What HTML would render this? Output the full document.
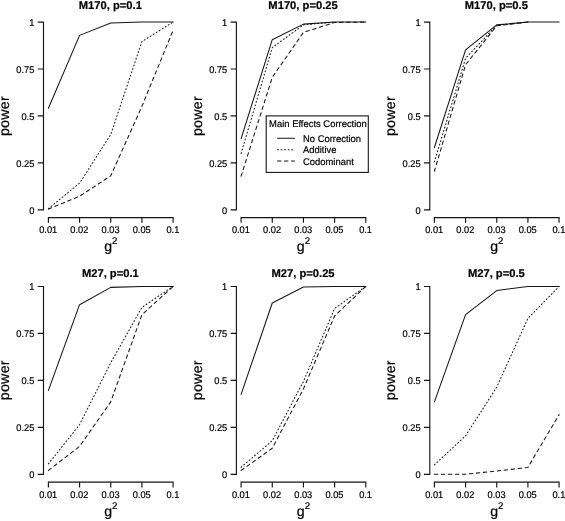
<!DOCTYPE html>
<html><head><meta charset="utf-8"><title>Power curves</title>
<style>html,body{margin:0;padding:0;background:#fff}svg{display:block;will-change:transform}text{font-family:"Liberation Sans",Arial,Helvetica,sans-serif;fill:#000;stroke:#000;stroke-width:.2px;text-rendering:geometricPrecision}.t{font-size:9.7px}.l{font-size:14.2px}.s{font-size:9.6px}.h{font-size:11.2px;font-weight:bold;stroke-width:.2px}.a{fill:none;stroke:#151515;stroke-width:1.15}.c{fill:none;stroke:#151515;stroke-width:1.05;stroke-linecap:round;stroke-linejoin:round}</style></head><body>
<svg width="565" height="521" viewBox="0 0 565 521">
<rect width="565" height="521" fill="#fff"/>
<g>
<path class="a" stroke-linecap="square" d="M43.50 22.05V209.80M43.50 209.80h-5.20M43.50 162.86h-5.20M43.50 115.93h-5.20M43.50 68.99h-5.20M43.50 22.05h-5.20M48.40 217.60H173.08M48.40 217.60v4.60M79.57 217.60v4.60M110.74 217.60v4.60M141.91 217.60v4.60M173.08 217.60v4.60"/>
<text class="t" text-anchor="end" transform="translate(34.30 213.80) scale(0.955 1)">0</text>
<text class="t" text-anchor="end" transform="translate(34.30 166.86) scale(0.955 1)">0.25</text>
<text class="t" text-anchor="end" transform="translate(34.30 119.93) scale(0.955 1)">0.5</text>
<text class="t" text-anchor="end" transform="translate(34.30 72.99) scale(0.955 1)">0.75</text>
<text class="t" text-anchor="end" transform="translate(34.30 26.05) scale(0.955 1)">1</text>
<text class="t" text-anchor="middle" transform="translate(48.20 233.00) scale(0.955 1)">0.01</text>
<text class="t" text-anchor="middle" transform="translate(79.37 233.00) scale(0.955 1)">0.02</text>
<text class="t" text-anchor="middle" transform="translate(110.54 233.00) scale(0.955 1)">0.03</text>
<text class="t" text-anchor="middle" transform="translate(141.71 233.00) scale(0.955 1)">0.05</text>
<text class="t" text-anchor="middle" transform="translate(172.88 233.00) scale(0.955 1)">0.1</text>
<text class="h" text-anchor="middle" x="110.34" y="8.95">M170, p=0.1</text>
<text class="l" x="104.14" y="250.70">g<tspan class="s" dy="-6.6">2</tspan></text>
<text class="l" text-anchor="middle" transform="translate(9.30 116.03) rotate(-90)" letter-spacing=".3">power</text>
<polyline class="c" points="48.40,209.05 79.57,196.28 110.74,175.82 141.91,106.35 173.08,30.31" stroke-dasharray="3.5 3.5"/>
<polyline class="c" points="48.40,208.67 79.57,183.14 110.74,134.51 141.91,41.58 173.08,22.05" stroke-dasharray="0.9 2.65"/>
<polyline class="c" points="48.40,108.23 79.57,35.38 110.74,22.99 141.91,22.05 173.08,22.05"/>
</g>
<g>
<path class="a" stroke-linecap="square" d="M236.40 22.05V209.80M236.40 209.80h-5.20M236.40 162.86h-5.20M236.40 115.93h-5.20M236.40 68.99h-5.20M236.40 22.05h-5.20M241.10 217.60H365.78M241.10 217.60v4.60M272.27 217.60v4.60M303.44 217.60v4.60M334.61 217.60v4.60M365.78 217.60v4.60"/>
<text class="t" text-anchor="end" transform="translate(227.20 213.80) scale(0.955 1)">0</text>
<text class="t" text-anchor="end" transform="translate(227.20 166.86) scale(0.955 1)">0.25</text>
<text class="t" text-anchor="end" transform="translate(227.20 119.93) scale(0.955 1)">0.5</text>
<text class="t" text-anchor="end" transform="translate(227.20 72.99) scale(0.955 1)">0.75</text>
<text class="t" text-anchor="end" transform="translate(227.20 26.05) scale(0.955 1)">1</text>
<text class="t" text-anchor="middle" transform="translate(240.90 233.00) scale(0.955 1)">0.01</text>
<text class="t" text-anchor="middle" transform="translate(272.07 233.00) scale(0.955 1)">0.02</text>
<text class="t" text-anchor="middle" transform="translate(303.24 233.00) scale(0.955 1)">0.03</text>
<text class="t" text-anchor="middle" transform="translate(334.41 233.00) scale(0.955 1)">0.05</text>
<text class="t" text-anchor="middle" transform="translate(365.58 233.00) scale(0.955 1)">0.1</text>
<text class="h" text-anchor="middle" x="303.04" y="8.95">M170, p=0.25</text>
<text class="l" x="296.84" y="250.70">g<tspan class="s" dy="-6.6">2</tspan></text>
<text class="l" text-anchor="middle" transform="translate(202.20 116.03) rotate(-90)" letter-spacing=".3">power</text>
<polyline class="c" points="241.10,176.19 272.27,77.25 303.44,32.38 334.61,22.43 365.78,22.05" stroke-dasharray="3.5 3.5"/>
<polyline class="c" points="241.10,153.48 272.27,47.58 303.44,24.87 334.61,22.05" stroke-dasharray="0.9 2.65"/>
<polyline class="c" points="241.10,138.64 272.27,39.70 303.44,24.12 334.61,22.05 365.78,22.05"/>
</g>
<g>
<path class="a" stroke-linecap="square" d="M429.80 22.05V209.80M429.80 209.80h-5.20M429.80 162.86h-5.20M429.80 115.93h-5.20M429.80 68.99h-5.20M429.80 22.05h-5.20M434.40 217.60H559.08M434.40 217.60v4.60M465.57 217.60v4.60M496.74 217.60v4.60M527.91 217.60v4.60M559.08 217.60v4.60"/>
<text class="t" text-anchor="end" transform="translate(420.60 213.80) scale(0.955 1)">0</text>
<text class="t" text-anchor="end" transform="translate(420.60 166.86) scale(0.955 1)">0.25</text>
<text class="t" text-anchor="end" transform="translate(420.60 119.93) scale(0.955 1)">0.5</text>
<text class="t" text-anchor="end" transform="translate(420.60 72.99) scale(0.955 1)">0.75</text>
<text class="t" text-anchor="end" transform="translate(420.60 26.05) scale(0.955 1)">1</text>
<text class="t" text-anchor="middle" transform="translate(434.20 233.00) scale(0.955 1)">0.01</text>
<text class="t" text-anchor="middle" transform="translate(465.37 233.00) scale(0.955 1)">0.02</text>
<text class="t" text-anchor="middle" transform="translate(496.54 233.00) scale(0.955 1)">0.03</text>
<text class="t" text-anchor="middle" transform="translate(527.71 233.00) scale(0.955 1)">0.05</text>
<text class="t" text-anchor="middle" transform="translate(558.88 233.00) scale(0.955 1)">0.1</text>
<text class="h" text-anchor="middle" x="496.34" y="8.95">M170, p=0.5</text>
<text class="l" x="490.14" y="250.70">g<tspan class="s" dy="-6.6">2</tspan></text>
<text class="l" text-anchor="middle" transform="translate(394.80 116.03) rotate(-90)" letter-spacing=".3">power</text>
<polyline class="c" points="434.40,171.31 465.57,64.67 496.74,25.81 527.91,22.05" stroke-dasharray="3.5 3.5"/>
<polyline class="c" points="434.40,161.92 465.57,58.29 496.74,25.24 527.91,22.05" stroke-dasharray="0.9 2.65"/>
<polyline class="c" points="434.40,147.47 465.57,49.84 496.74,24.87 527.91,22.05 559.08,22.05"/>
</g>
<g>
<path class="a" stroke-linecap="square" d="M43.50 286.45V474.40M43.50 474.40h-5.20M43.50 427.41h-5.20M43.50 380.42h-5.20M43.50 333.44h-5.20M43.50 286.45h-5.20M48.40 482.10H173.08M48.40 482.10v4.90M79.57 482.10v4.90M110.74 482.10v4.90M141.91 482.10v4.90M173.08 482.10v4.90"/>
<text class="t" text-anchor="end" transform="translate(34.30 478.40) scale(0.955 1)">0</text>
<text class="t" text-anchor="end" transform="translate(34.30 431.41) scale(0.955 1)">0.25</text>
<text class="t" text-anchor="end" transform="translate(34.30 384.42) scale(0.955 1)">0.5</text>
<text class="t" text-anchor="end" transform="translate(34.30 337.44) scale(0.955 1)">0.75</text>
<text class="t" text-anchor="end" transform="translate(34.30 290.45) scale(0.955 1)">1</text>
<text class="t" text-anchor="middle" transform="translate(48.20 498.00) scale(0.955 1)">0.01</text>
<text class="t" text-anchor="middle" transform="translate(79.37 498.00) scale(0.955 1)">0.02</text>
<text class="t" text-anchor="middle" transform="translate(110.54 498.00) scale(0.955 1)">0.03</text>
<text class="t" text-anchor="middle" transform="translate(141.71 498.00) scale(0.955 1)">0.05</text>
<text class="t" text-anchor="middle" transform="translate(172.88 498.00) scale(0.955 1)">0.1</text>
<text class="h" text-anchor="middle" x="110.34" y="276.65">M27, p=0.1</text>
<text class="l" x="104.14" y="515.70">g<tspan class="s" dy="-6.6">2</tspan></text>
<text class="l" text-anchor="middle" transform="translate(9.30 380.22) rotate(-90)" letter-spacing=".3">power</text>
<polyline class="c" points="48.40,470.45 79.57,446.40 110.74,401.85 141.91,314.64 173.08,286.45" stroke-dasharray="3.5 3.5"/>
<polyline class="c" points="48.40,463.87 79.57,424.59 110.74,362.76 141.91,307.31 173.08,286.45" stroke-dasharray="0.9 2.65"/>
<polyline class="c" points="48.40,390.39 79.57,304.68 110.74,287.39 141.91,286.45 173.08,286.45"/>
</g>
<g>
<path class="a" stroke-linecap="square" d="M236.40 286.45V474.40M236.40 474.40h-5.20M236.40 427.41h-5.20M236.40 380.42h-5.20M236.40 333.44h-5.20M236.40 286.45h-5.20M241.10 482.10H365.78M241.10 482.10v4.90M272.27 482.10v4.90M303.44 482.10v4.90M334.61 482.10v4.90M365.78 482.10v4.90"/>
<text class="t" text-anchor="end" transform="translate(227.20 478.40) scale(0.955 1)">0</text>
<text class="t" text-anchor="end" transform="translate(227.20 431.41) scale(0.955 1)">0.25</text>
<text class="t" text-anchor="end" transform="translate(227.20 384.42) scale(0.955 1)">0.5</text>
<text class="t" text-anchor="end" transform="translate(227.20 337.44) scale(0.955 1)">0.75</text>
<text class="t" text-anchor="end" transform="translate(227.20 290.45) scale(0.955 1)">1</text>
<text class="t" text-anchor="middle" transform="translate(240.90 498.00) scale(0.955 1)">0.01</text>
<text class="t" text-anchor="middle" transform="translate(272.07 498.00) scale(0.955 1)">0.02</text>
<text class="t" text-anchor="middle" transform="translate(303.24 498.00) scale(0.955 1)">0.03</text>
<text class="t" text-anchor="middle" transform="translate(334.41 498.00) scale(0.955 1)">0.05</text>
<text class="t" text-anchor="middle" transform="translate(365.58 498.00) scale(0.955 1)">0.1</text>
<text class="h" text-anchor="middle" x="303.04" y="276.65">M27, p=0.25</text>
<text class="l" x="296.84" y="515.70">g<tspan class="s" dy="-6.6">2</tspan></text>
<text class="l" text-anchor="middle" transform="translate(202.20 380.22) rotate(-90)" letter-spacing=".3">power</text>
<polyline class="c" points="241.10,470.45 272.27,448.27 303.44,388.88 334.61,315.96 365.78,286.45" stroke-dasharray="3.5 3.5"/>
<polyline class="c" points="241.10,467.26 272.27,440.76 303.44,381.36 334.61,308.44 365.78,286.45" stroke-dasharray="0.9 2.65"/>
<polyline class="c" points="241.10,394.33 272.27,302.99 303.44,287.01 334.61,286.45 365.78,286.45"/>
</g>
<g>
<path class="a" stroke-linecap="square" d="M429.80 286.45V474.40M429.80 474.40h-5.20M429.80 427.41h-5.20M429.80 380.42h-5.20M429.80 333.44h-5.20M429.80 286.45h-5.20M434.40 482.10H559.08M434.40 482.10v4.90M465.57 482.10v4.90M496.74 482.10v4.90M527.91 482.10v4.90M559.08 482.10v4.90"/>
<text class="t" text-anchor="end" transform="translate(420.60 478.40) scale(0.955 1)">0</text>
<text class="t" text-anchor="end" transform="translate(420.60 431.41) scale(0.955 1)">0.25</text>
<text class="t" text-anchor="end" transform="translate(420.60 384.42) scale(0.955 1)">0.5</text>
<text class="t" text-anchor="end" transform="translate(420.60 337.44) scale(0.955 1)">0.75</text>
<text class="t" text-anchor="end" transform="translate(420.60 290.45) scale(0.955 1)">1</text>
<text class="t" text-anchor="middle" transform="translate(434.20 498.00) scale(0.955 1)">0.01</text>
<text class="t" text-anchor="middle" transform="translate(465.37 498.00) scale(0.955 1)">0.02</text>
<text class="t" text-anchor="middle" transform="translate(496.54 498.00) scale(0.955 1)">0.03</text>
<text class="t" text-anchor="middle" transform="translate(527.71 498.00) scale(0.955 1)">0.05</text>
<text class="t" text-anchor="middle" transform="translate(558.88 498.00) scale(0.955 1)">0.1</text>
<text class="h" text-anchor="middle" x="496.34" y="276.65">M27, p=0.5</text>
<text class="l" x="490.14" y="515.70">g<tspan class="s" dy="-6.6">2</tspan></text>
<text class="l" text-anchor="middle" transform="translate(394.80 380.22) rotate(-90)" letter-spacing=".3">power</text>
<polyline class="c" points="434.40,474.21 465.57,474.21 496.74,471.02 527.91,467.45 559.08,414.63" stroke-dasharray="3.5 3.5"/>
<polyline class="c" points="434.40,464.81 465.57,435.87 496.74,387.00 527.91,318.40 559.08,286.45" stroke-dasharray="0.9 2.65"/>
<polyline class="c" points="434.40,401.85 465.57,314.64 496.74,290.58 527.91,286.45 559.08,286.45"/>
</g>
<g>
<rect x="266.2" y="115.9" width="102.1" height="56.5" fill="#fff" stroke="#151515" stroke-width="1.1"/>
<text class="t" transform="translate(269.1 127.3) scale(0.972 1)">Main Effects Correction</text>
<path class="c" d="M277.5 138.30H294.5"/>
<text class="t" transform="translate(303.0 141.80) scale(0.972 1)">No Correction</text>
<path class="c" d="M277.5 149.65H294.5" stroke-dasharray="0.9 2.65"/>
<text class="t" transform="translate(303.0 153.15) scale(0.972 1)">Additive</text>
<path class="c" d="M277.5 161.05H294.5" stroke-dasharray="3.5 3.5"/>
<text class="t" transform="translate(303.0 164.55) scale(0.972 1)">Codominant</text>
</g>
</svg></body></html>
